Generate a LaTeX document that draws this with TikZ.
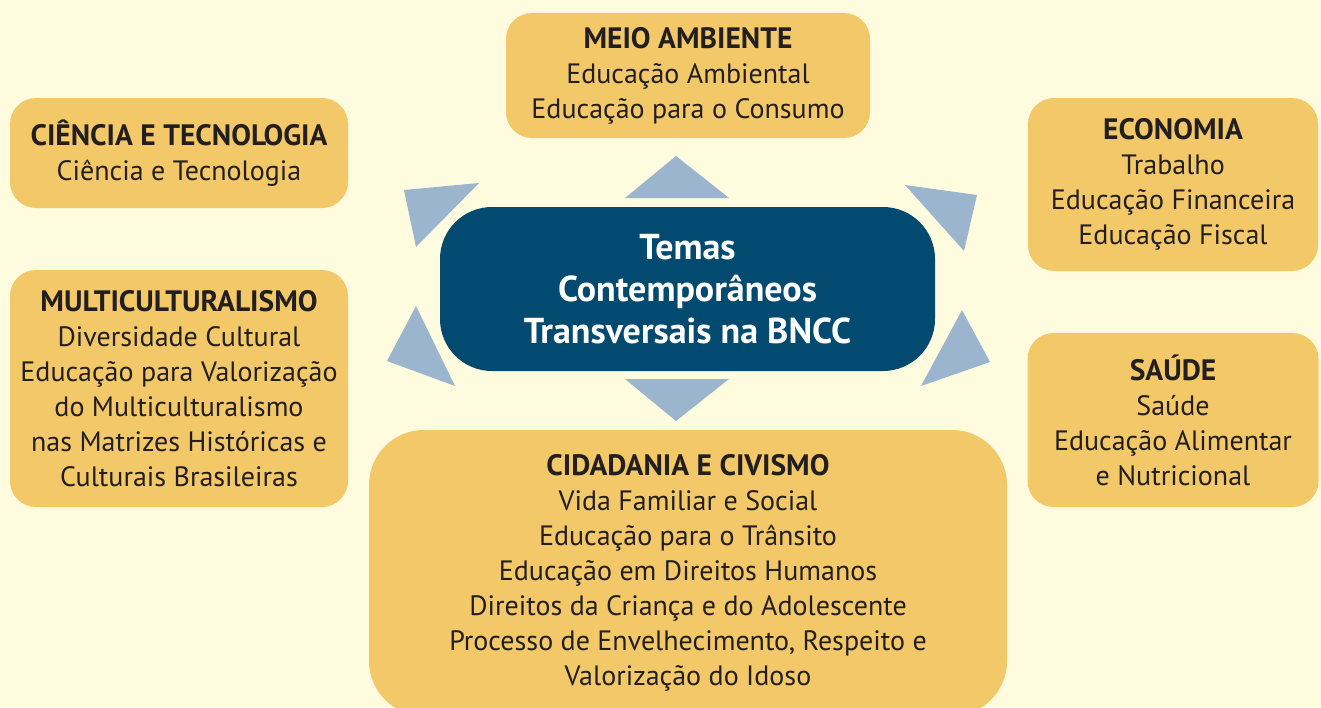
\documentclass[tikz,border=0pt]{standalone}
\usepackage{fontspec}
\setmainfont{PT Sans}
\definecolor{cream}{HTML}{FFFBDE}
\definecolor{gold}{HTML}{F2C868}
\definecolor{navy}{HTML}{034A70}
\definecolor{paleblue}{HTML}{9CB5CE}
\definecolor{ink}{HTML}{231F20}
\newcommand\themetitle[1]{{\bfseries\fontsize{29.5}{35}\selectfont #1}}
\begin{document}
\begin{tikzpicture}
    [x=1pt, y=-1pt,
     theme/.style={fill=gold, text=ink, rounded corners=26pt, align=center,
        inner sep=0pt, font=\fontsize{28}{35}\selectfont},
     hub/.style={fill=navy, text=white, rounded corners=52pt, align=center,
        inner sep=0pt, font=\bfseries\fontsize{36}{42}\selectfont},
     pointer/.style={fill=paleblue}]
    \clip (0,0) rectangle (1321,707);
    \fill[cream] (0,0) rectangle (1321,707);
    \node[hub, minimum width=495pt, minimum height=164pt] (temas) at (687.5,289)
        {Temas\\Contemporâneos\\Transversais na BNCC};
    \node[theme, minimum width=364pt, minimum height=125pt] (meio) at (688,75.5)
        {\themetitle{MEIO AMBIENTE}\\Educação Ambiental\\Educação para o Consumo};
    \node[theme, minimum width=338pt, minimum height=110pt] (ciencia) at (179,153)
        {\themetitle{CIÊNCIA E TECNOLOGIA}\\Ciência e Tecnologia};
    \node[theme, minimum width=338pt, minimum height=237pt] (multi) at (179,388.5)
        {\themetitle{MULTICULTURALISMO}\\Diversidade Cultural\\Educação para Valorização\\do Multiculturalismo\\nas Matrizes Históricas e\\Culturais Brasileiras};
    \node[theme, minimum width=290pt, minimum height=173pt] (economia) at (1173,184.5)
        {\themetitle{ECONOMIA}\\Trabalho\\Educação Financeira\\Educação Fiscal};
    \node[theme, minimum width=291pt, minimum height=174pt] (saude) at (1173,420)
        {\themetitle{SAÚDE}\\Saúde\\Educação Alimentar\\e Nutricional};
    \node[theme, rounded corners=55pt, minimum width=638pt, minimum height=286pt] (cidadania) at (688,573)
        {\themetitle{CIDADANIA E CIVISMO}\\Vida Familiar e Social\\Educação para o Trânsito\\Educação em Direitos Humanos\\Direitos da Criança e do Adolescente\\Processo de Envelhecimento, Respeito e\\Valorização do Idoso};
    % pointers round the hub
    \fill[pointer] (676,156) -- (625,198) -- (729,198) -- cycle;
    \fill[pointer] (625,379) -- (729,379) -- (676,421) -- cycle;
    \fill[pointer] (404,190) -- (479,183) -- (416,247) -- cycle;
    \fill[pointer] (905,185) -- (977,195) -- (964,251) -- cycle;
    \fill[pointer] (416,306) -- (387,361) -- (455,386) -- cycle;
    \fill[pointer] (962,310) -- (990,362) -- (921,386) -- cycle;
\end{tikzpicture}
\end{document}
